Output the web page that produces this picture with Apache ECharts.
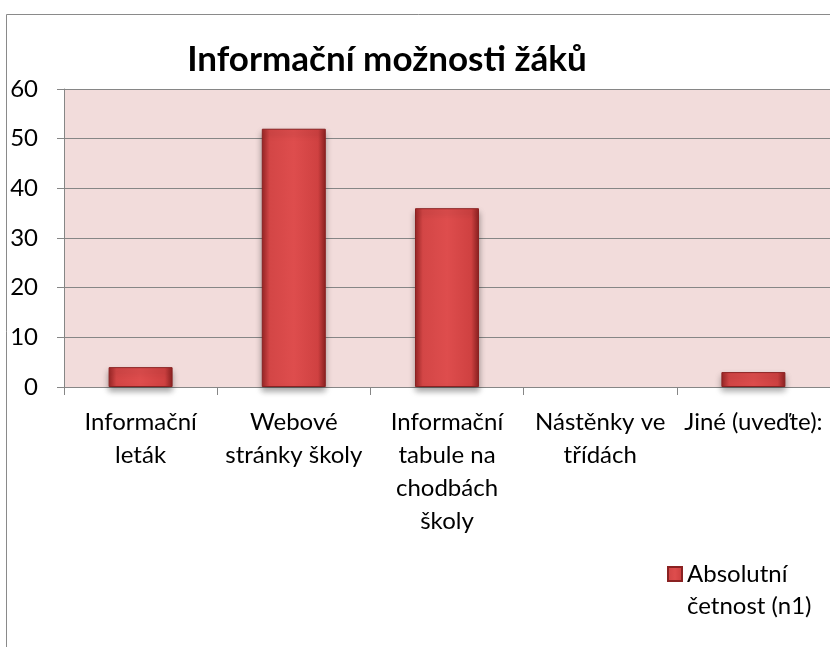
<!DOCTYPE html>
<html>
<head>
<meta charset="utf-8">
<script src="https://cdn.jsdelivr.net/npm/echarts@6/dist/echarts.min.js"></script>
<style>
  html, body { margin: 0; padding: 0; background: #fff; }
  #chart { width: 830px; height: 647px; }
</style>
</head>
<body>
<div id="chart"></div>
<script>
const categories = [
  'Informační\nleták',
  'Webové\nstránky školy',
  'Informační\ntabule na\nchodbách\nškoly',
  'Nástěnky ve\ntřídách',
  'Jiné (uveďte):'
]
const counts = [4, 52, 36, 0, 3]
const seriesName = 'Absolutní\nčetnost (n1)'
const yTicks = { min: 0, max: 60, interval: 10 }

const font = 'Lato, "Open Sans", sans-serif'
const barFill = new echarts.graphic.LinearGradient(0, 0, 1, 0, [
  { offset: 0, color: '#9b2626' },
  { offset: 0.12, color: '#d34646' },
  { offset: 0.5, color: '#de4d4d' },
  { offset: 0.88, color: '#cf4141' },
  { offset: 1, color: '#8e2121' }
])

const chart = echarts.init(document.getElementById('chart'))
chart.setOption({
  animation: false,
  title: {
    text: 'Informační možnosti žáků',
    left: 382,
    textAlign: 'center',
    top: 37,
    textStyle: { fontFamily: font, fontSize: 35, fontWeight: 'bold', color: '#000' }
  },
  graphic: [{
    type: 'rect',
    shape: { x: 6.5, y: 14.5, width: 900, height: 700 },
    style: { fill: 'none', stroke: '#8a8a8a', lineWidth: 1 },
    silent: true
  }],
  legend: {
    orient: 'vertical',
    left: 662,
    top: 525,
    itemWidth: 14,
    itemHeight: 14,
    itemGap: 9,
    icon: 'rect',
    // empty first line keeps the icon level with "Absolutní"
    formatter: name => '{p| }\n' + name.split('\n').map(s => '{t|' + s + '}').join('\n'),
    textStyle: {
      fontFamily: font, fontSize: 24, color: '#000',
      rich: {
        p: { fontSize: 24, lineHeight: 32 },
        t: { fontFamily: font, fontSize: 24, lineHeight: 32, color: '#000' }
      }
    }
  },
  grid: { left: 64, right: 0, top: 89, bottom: 260, show: true, backgroundColor: '#f2dcdb', borderWidth: 0 },
  xAxis: {
    type: 'category',
    data: categories,
    axisLine: { lineStyle: { color: '#868686' } },
    axisTick: { show: true, length: 8, lineStyle: { color: '#868686' } },
    axisLabel: { interval: 0, fontFamily: font, fontSize: 24, color: '#000', lineHeight: 33, margin: 19 }
  },
  yAxis: {
    type: 'value',
    min: yTicks.min,
    max: yTicks.max,
    interval: yTicks.interval,
    axisLine: { show: true, lineStyle: { color: '#868686' } },
    axisTick: { show: true, length: 7, lineStyle: { color: '#868686' } },
    axisLabel: { fontFamily: font, fontSize: 24, color: '#000', margin: 26 },
    splitLine: { lineStyle: { color: '#868686', width: 1 } }
  },
  series: [{
    name: seriesName,
    type: 'bar',
    data: counts.map(v => (v === 0 ? '-' : v)),
    barWidth: 64,
    itemStyle: {
      color: barFill,
      borderColor: '#8a2222',
      borderWidth: 1,
      shadowColor: 'rgba(0,0,0,0.35)',
      shadowBlur: 6,
      shadowOffsetY: 4
    }
  }]
})
</script>
</body>
</html>
